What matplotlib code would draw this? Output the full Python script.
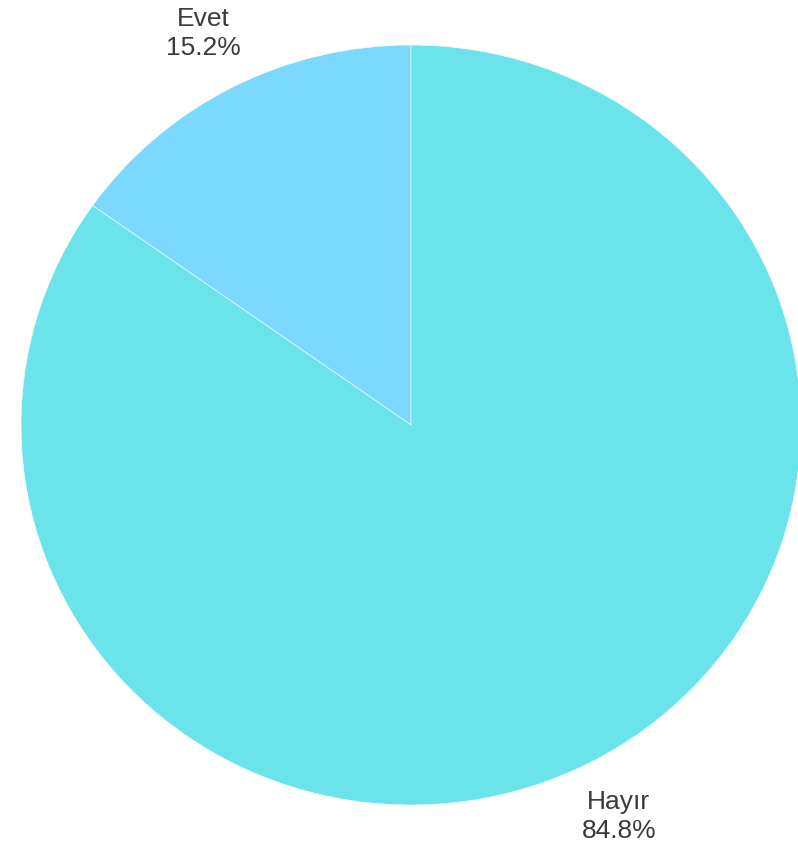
import matplotlib.pyplot as plt

labels = ['Evet', 'Hayır']
values = [15.2, 84.8]
colors = ['#7bd9fe', '#6be3ea']

fig = plt.figure(figsize=(7.98, 8.55), dpi=100)
ax = fig.add_axes([0, 0, 1, 1])

texts_lbl = ['%s\n%.1f%%' % (l, v) for l, v in zip(labels, values)]
wedges, texts = ax.pie(values, labels=texts_lbl, colors=colors, startangle=90,
                       counterclock=True, labeldistance=1.16,
                       wedgeprops=dict(edgecolor='white', linewidth=0.4),
                       textprops=dict(fontsize=19, color='#3a3a3a',
                                      family='Liberation Sans', linespacing=1.3))
for t in texts:
    t.set_ha('center')
    t.set_va('center')

# pixel layout: centre (411, 425), radius ~390 x 380
ax.set_aspect('auto')
ax.set_xlim(-411 / 390, (798 - 411) / 390)
ax.set_ylim(-(855 - 425) / 380, 425 / 380)
ax.axis('off')

fig.savefig('out.png', dpi=100, facecolor='white')
